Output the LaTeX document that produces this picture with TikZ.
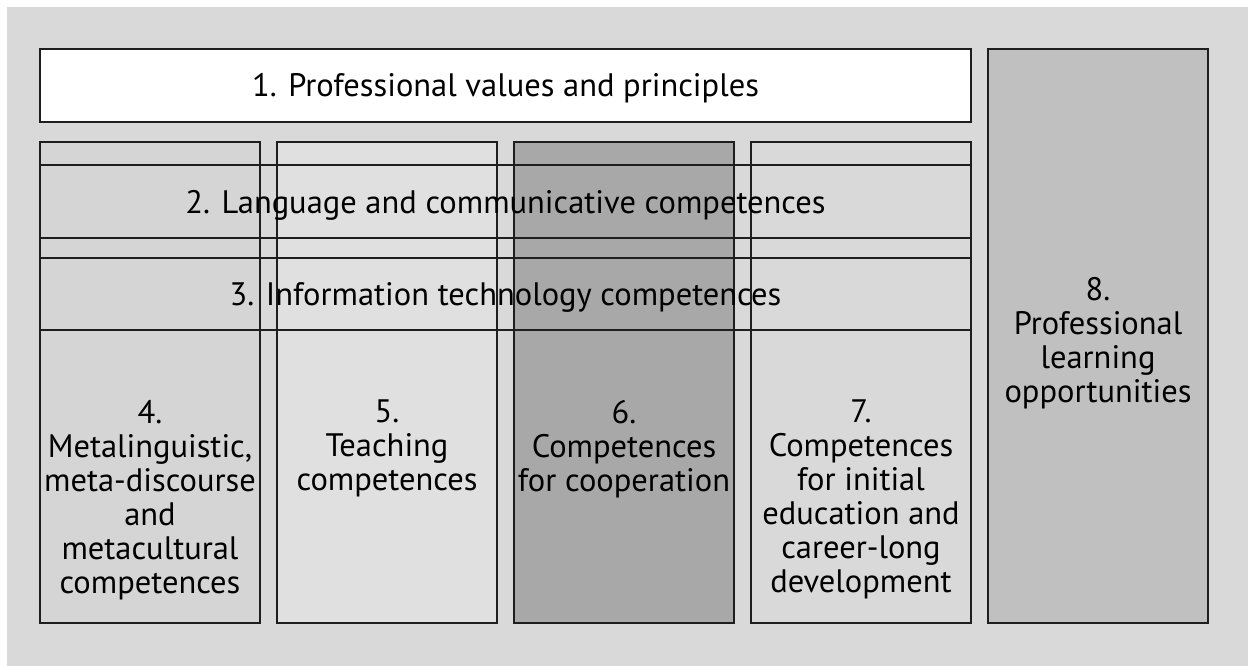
\documentclass[tikz,border=0pt]{standalone}
\usepackage{fontspec}
\setmainfont{PT Sans}
\usetikzlibrary{positioning}

\definecolor{bggray}{HTML}{D9D9D9}
\definecolor{linegray}{HTML}{1E1E1E}
\definecolor{metagray}{HTML}{D5D5D5}
\definecolor{teachgray}{HTML}{E0E0E0}
\definecolor{coopgray}{HTML}{A8A8A8}
\definecolor{initgray}{HTML}{D9D9D9}
\definecolor{learngray}{HTML}{C0C0C0}

\tikzset{
  area/.style={rectangle,draw=linegray,line width=1.4pt,outer sep=0pt,inner sep=0pt},
  column/.style={area,minimum width=220pt,minimum height=481pt},
  band/.style={area,minimum width=931pt,minimum height=73pt,text height=23pt,text depth=0pt},
  coltext/.style={align=center,inner sep=0pt,anchor=north}
}

\begin{document}
\begin{tikzpicture}[x=1pt,y=-1pt,font=\fontsize{32.5}{34}\selectfont]
  \useasboundingbox (0,0) rectangle (1248,666);
  \fill[white] (0,0) rectangle (1248,666);
  \fill[bggray] (7,7) rectangle (1248,666);

  \node[band,fill=white,anchor=north west] (values) at (40,49) {1. Professional values and principles};

  \node[column,fill=metagray,anchor=north west] (meta) at (40,142) {};
  \node[column,fill=teachgray] (teach) [right=17pt of meta] {};
  \node[column,fill=coopgray] (coop) [right=17pt of teach] {};
  \node[column,fill=initgray] (init) [right=17pt of coop] {};
  \node[area,minimum width=220pt,minimum height=574pt,fill=learngray]
    (learn) [right=17pt of values.north east,anchor=north west] {};

  \node[band,anchor=north west] (language) at (40,165) {2. Language and communicative competences};
  \node[band,minimum height=72pt] (infotech) [below=20pt of language] {3. Information technology competences};

  \node[coltext] (metatext) [below=258pt of meta.north]
    {4.\\Metalinguistic,\\meta-discourse\\and\\metacultural\\competences};
  \node[coltext] (teachtext) [below=258pt of teach.north] {5.\\Teaching\\competences};
  \node[coltext] (cooptext) [below=258pt of coop.north] {6.\\Competences\\for cooperation};
  \node[coltext] (inittext) [below=258pt of init.north]
    {7.\\Competences\\for initial\\education and\\career-long\\development};
  \node[coltext] (learntext) [below=228pt of learn.north]
    {8.\\Professional\\learning\\opportunities};
\end{tikzpicture}
\end{document}
